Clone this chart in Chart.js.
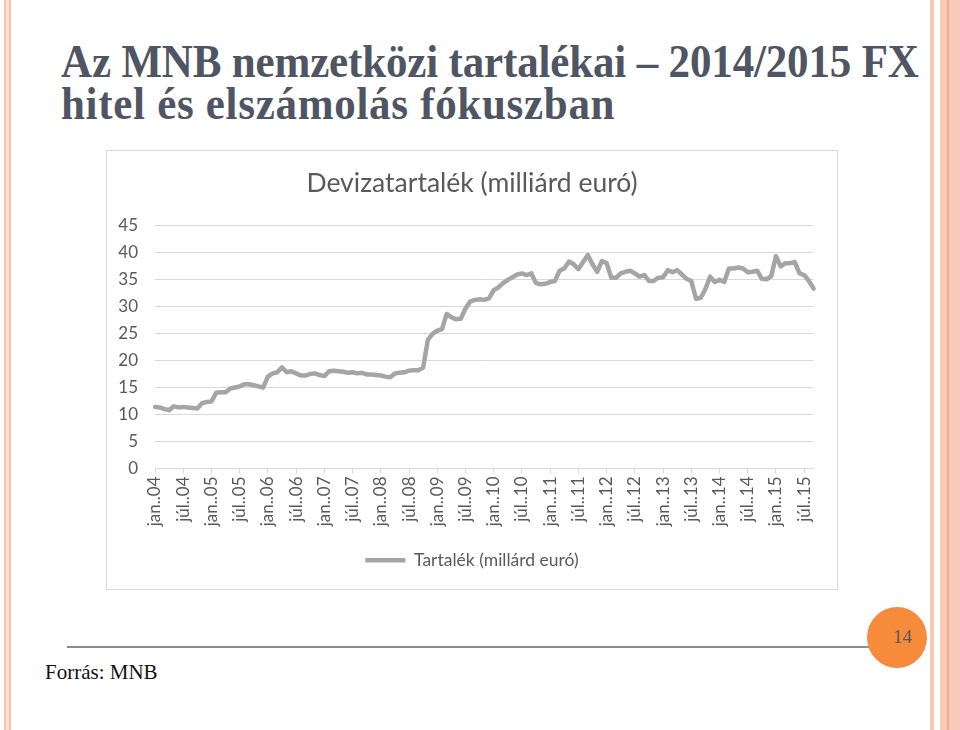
<!DOCTYPE html>
<html>
<head>
<meta charset="utf-8">
<script src="https://cdn.jsdelivr.net/npm/chart.js@4.4.1/dist/chart.umd.min.js"></script>
<style>
  body { margin: 0; width: 960px; height: 730px; background: #fff; position: relative; overflow: hidden; }
  .stripe { position: absolute; top: 0; height: 730px; }
  #heading { position: absolute; left: 61px; top: 41px; font-family: "Liberation Serif", serif; font-weight: bold;
             font-size: 43px; line-height: 37.5px; color: #4f5563; white-space: nowrap;
             transform: scaleY(1.1); transform-origin: 0 0; }
  #heading .l1 { letter-spacing: -0.16px; }
  #heading .l2 { letter-spacing: 0.7px; }
  #box { position: absolute; left: 106px; top: 150px; width: 732px; height: 440px; border: 1px solid #d9d9d9; box-sizing: border-box; }
  #footline { position: absolute; left: 67px; top: 646px; width: 838px; height: 2px; background: #8c8c8c; }
  #pagenum { position: absolute; left: 867px; top: 607px; width: 60px; height: 61px; border-radius: 50%; background: #f68b3c; }
  #pagenum span { position: absolute; left: 26px; top: 19px; font-family: "Liberation Serif", serif; font-size: 19px; color: #595959; }
  #source { position: absolute; left: 45px; top: 660px; font-family: "Liberation Serif", serif; font-size: 21px; color: #111; }
</style>
</head>
<body>
<div class="stripe" style="left:4px;width:7px;background:#f7c4b0;"></div>
<div class="stripe" style="left:6px;width:3px;background:#fbe0d5;"></div>
<div class="stripe" style="left:930px;width:4px;background:#f9c9b5;"></div>
<div class="stripe" style="left:940px;width:20px;background:#f8cbb8;"></div>
<div class="stripe" style="left:947px;width:2px;background:#f3a98a;"></div>

<div id="heading"><span class="l1">Az MNB nemzetközi tartalékai – 2014/2015 FX</span><br><span class="l2">hitel és elszámolás fókuszban</span></div>

<div id="box"><canvas id="chart" width="730" height="438"></canvas></div>

<div id="footline"></div>
<div id="pagenum"><span>14</span></div>
<div id="source">Forrás: MNB</div>

<script>
const chartTitle = 'Devizatartalék (milliárd euró)';
const seriesName = 'Tartalék (millárd euró)';
const monthNames = ['jan.', 'febr.', 'márc.', 'ápr.', 'máj.', 'jún.', 'júl.', 'aug.', 'szept.', 'okt.', 'nov.', 'dec.'];
const years = ['04', '05', '06', '07', '08', '09', '10', '11', '12', '13', '14', '15'];
const yTicks = [0, 5, 10, 15, 20, 25, 30, 35, 40, 45];

// monthly reserves, jan 2004 - szept 2015
const reserves = [
    11.4, 11.3, 11.0, 10.8, 11.5, 11.3, 11.4, 11.3, 11.2, 11.1, 12.1, 12.3,
    12.4, 14.0, 14.1, 14.1, 14.8, 15.0, 15.2, 15.6, 15.6, 15.4, 15.2, 15.0,
    17.0, 17.6, 17.8, 18.7, 17.8, 18.0, 17.6, 17.2, 17.2, 17.5, 17.6, 17.3,
    17.1, 18.0, 18.1, 18.0, 17.9, 17.7, 17.8, 17.6, 17.7, 17.4, 17.4, 17.3,
    17.2, 17.0, 16.9, 17.6, 17.7, 17.8, 18.1, 18.2, 18.2, 18.7, 23.8, 24.9,
    25.5, 25.8, 28.6, 28.0, 27.6, 27.7, 29.6, 30.9, 31.2, 31.3, 31.2, 31.5,
    33.0, 33.5, 34.3, 34.9, 35.4, 35.9, 36.1, 35.8, 36.1, 34.3, 34.1, 34.2,
    34.5, 34.7, 36.6, 37.0, 38.3, 37.8, 36.9, 38.2, 39.5, 37.8, 36.4, 38.4,
    38.0, 35.3, 35.3, 36.1, 36.4, 36.6, 36.1, 35.5, 35.8, 34.7, 34.7, 35.3,
    35.4, 36.7, 36.3, 36.7, 35.9, 35.1, 34.7, 31.4, 31.6, 33.2, 35.5, 34.5,
    34.9, 34.5, 37.0, 37.0, 37.2, 37.0, 36.3, 36.4, 36.6, 35.1, 35.0, 35.6,
    39.3, 37.4, 38.0, 38.0, 38.2, 36.1, 35.8, 34.7, 33.3
];

const categories = [];
years.forEach(y => monthNames.forEach(m => categories.push(m + '.' + y)));
categories.length = reserves.length;

const gray = '#a5a5a5';
const textColor = '#595959';
const gridColor = '#d9d9d9';
const font = 'Lato';

new Chart(document.getElementById('chart'), {
    type: 'line',
    data: {
        labels: categories,
        datasets: [{
            label: seriesName,
            data: reserves,
            borderColor: gray,
            backgroundColor: gray,
            borderWidth: 4.5,
            pointRadius: 0,
            tension: 0,
            borderJoinStyle: 'round',
            borderCapStyle: 'round'
        }]
    },
    options: {
        responsive: false,
        animation: false,
        layout: { padding: { left: 0, right: 0, top: 0, bottom: 10 } },
        plugins: {
            title: {
                display: true,
                text: chartTitle,
                color: textColor,
                font: { family: font, size: 26.5, weight: 'normal' },
                padding: { top: 17, bottom: 25.5 }
            },
            legend: {
                position: 'bottom',
                labels: {
                    color: textColor,
                    font: { family: font, size: 17.5 },
                    usePointStyle: true,
                    pointStyle: 'line',
                    pointStyleWidth: 40
                }
            },
            tooltip: { enabled: false }
        },
        scales: {
            x: {
                grid: {
                    drawOnChartArea: false,
                    drawTicks: true,
                    tickLength: 5,
                    tickColor: ctx => ctx.index % 6 === 0 ? gridColor : 'rgba(0,0,0,0)'
                },
                border: { display: true, color: gridColor },
                ticks: {
                    autoSkip: false,
                    maxRotation: 90,
                    minRotation: 90,
                    padding: 3,
                    color: textColor,
                    font: { family: font, size: 17 },
                    callback: function (v, i) { return i % 6 === 0 ? this.getLabelForValue(v) : ''; }
                },
                afterFit: scale => { scale.height = 73; }
            },
            y: {
                min: yTicks[0],
                max: yTicks[yTicks.length - 1],
                afterBuildTicks: scale => { scale.ticks = yTicks.map(v => ({ value: v })); },
                grid: { color: gridColor, drawTicks: false },
                border: { display: false },
                ticks: {
                    padding: 17,
                    color: textColor,
                    font: { family: font, size: 17 }
                },
                afterFit: scale => { scale.width = 48; }
            },
            // empty right-hand spacer so the title and legend stay centred on the whole box
            yRight: {
                position: 'right',
                grid: { display: false },
                border: { display: false },
                ticks: { display: false },
                afterFit: scale => { scale.width = 22; }
            }
        }
    }
});
</script>
</body>
</html>
